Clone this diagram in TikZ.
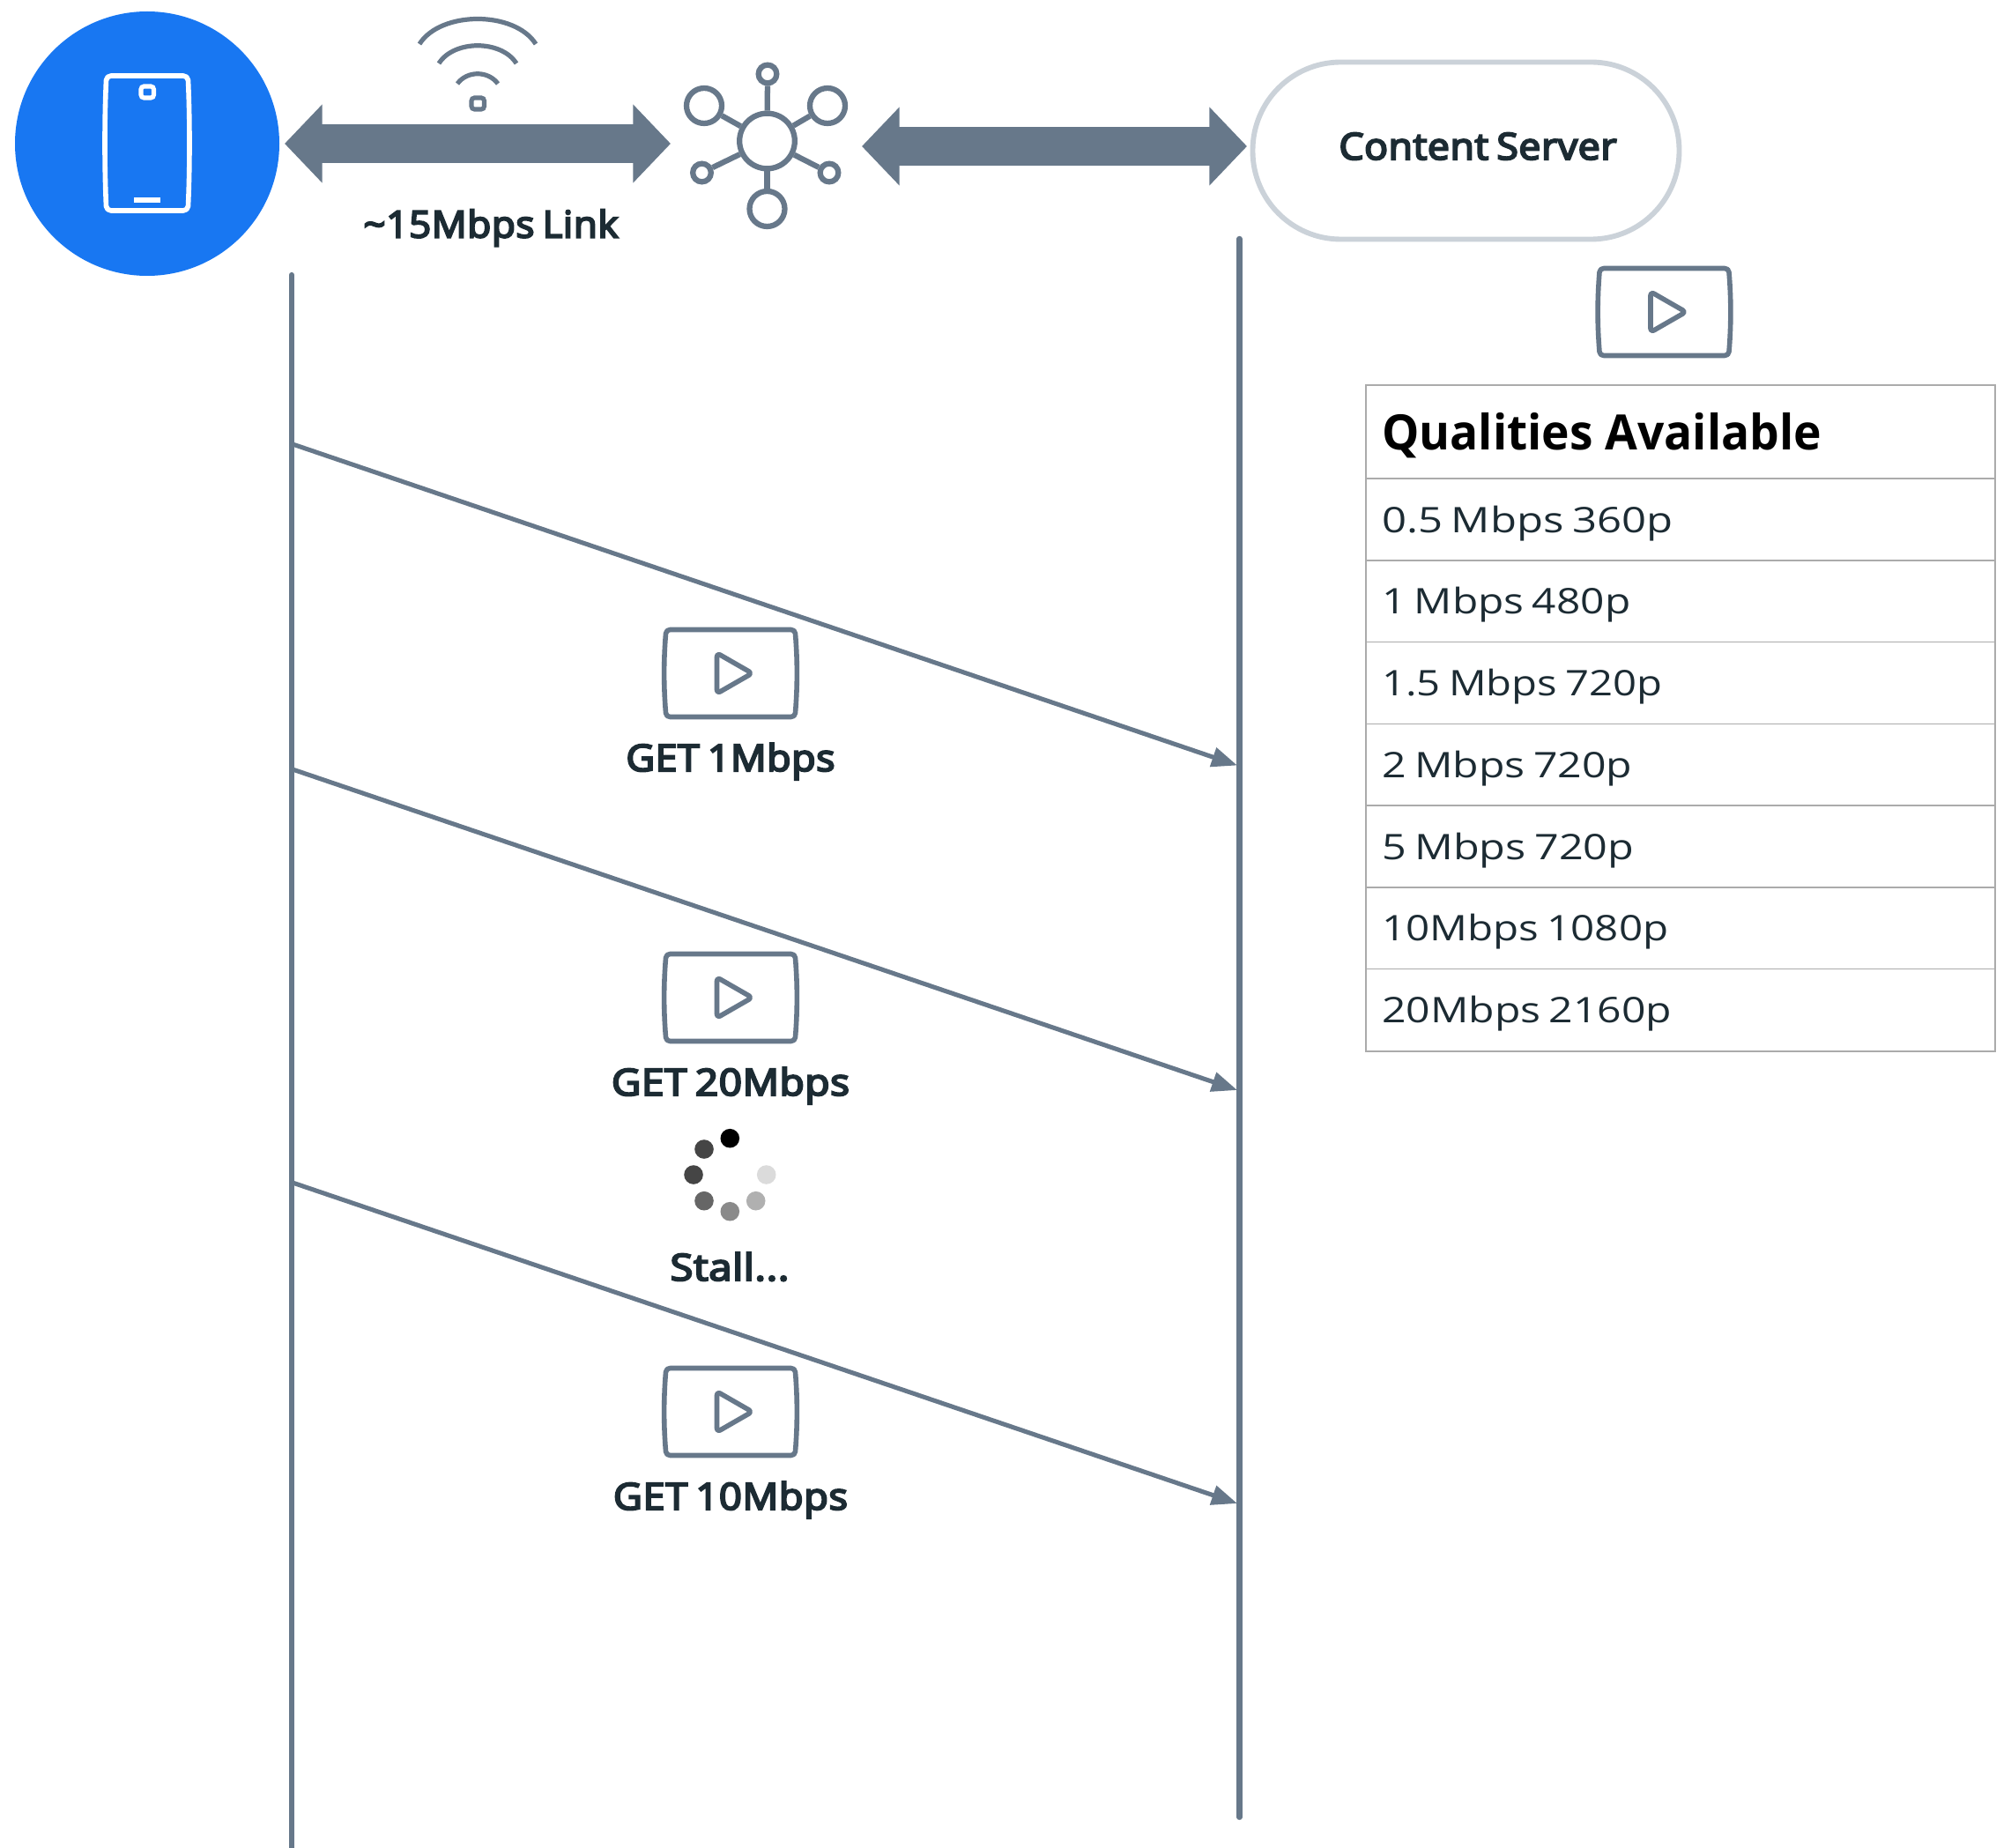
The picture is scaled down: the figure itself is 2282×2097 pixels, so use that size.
\documentclass[tikz,border=0pt]{standalone}
\usepackage{fontspec}
\usepackage{graphicx}
\usetikzlibrary{arrows.meta}
\setmainfont{Open Sans}
\newfontfamily\semi[FakeBold=5,LetterSpace=1.5,WordSpace=0.75]{Open Sans}
\newfontfamily\rowf[WordSpace=0.75]{Open Sans}
\definecolor{slate}{HTML}{67788A}
\definecolor{inkc}{HTML}{1C2B33}
\definecolor{fbblue}{HTML}{1877F2}
\definecolor{pale}{HTML}{CBD2D9}
\definecolor{rule}{HTML}{ABABAB}
% horizontally fit a text to a width given in reference pixels
\newcommand\fitw[2]{\setbox0=\hbox{#2}\pgfmathsetmacro\fitx{#1*0.75/\the\wd0}\scalebox{\fitx}[1]{\box0}}
\newcommand\lblfont{\fontsize{31.5}{36}\selectfont\semi\color{inkc}}
\newcommand\rowfont{\fontsize{30}{32}\selectfont\rowf\color{inkc}}
\newcommand\headfont{\fontsize{41.5}{46}\selectfont\bfseries\color{black}}
\tikzset{
  x=0.75pt,y=-0.75pt,
  iconline/.style={draw=slate,line width=4.2pt,line join=round},
  lifeline/.style={draw=slate,line width=4.7pt,line cap=round},
  msg/.style={draw=slate,line width=3.8pt,-{Triangle[length=21.75pt,width=16.5pt]}},
  fatarrow/.style={draw=slate,line width=32.5pt,{Triangle[length=32pt,width=65pt]}-{Triangle[length=32pt,width=65pt]}},
  label/.style={inner sep=0pt,anchor=base},
  rowlbl/.style={inner sep=0pt,anchor=base west},
  dot/.style={circle,inner sep=0pt,minimum size=16.2pt},
  ring/.style={circle,draw=slate,line width=4.7pt,inner sep=0pt},
  spoke/.style={draw=slate,line width=4.7pt},
}
\newcommand\vidicon[2]{%
\begin{scope}[shift={(#1,#2)}]
 \draw[iconline] (-69,-49.5) -- (68,-49.5) .. controls (71,-49.5) and (72.5,-48) .. (73,-45) .. controls (75.5,-15) and (75.5,15) .. (73,45) .. controls (72.5,48) and (71,49.5) .. (68,49.5) -- (-69,49.5) .. controls (-72,49.5) and (-73.5,48) .. (-74,45) .. controls (-76.5,15) and (-76.5,-15) .. (-74,-45) .. controls (-73.5,-48) and (-72,-49.5) .. (-69,-49.5) -- cycle;
 \draw[iconline,rounded corners=3pt] (-16,-23) -- (24,0) -- (-16,23) -- cycle;
\end{scope}}
\begin{document}
\begin{tikzpicture}
\useasboundingbox (0,0) rectangle (2282,2097);
% device
\node[circle,fill=fbblue,minimum size=225pt,inner sep=0pt] (phone) at (167,163) {};
\draw[draw=white,line width=4.2pt,line join=round] (126,86) -- (208,86) .. controls (211,86) and (213,88) .. (213.5,91) .. controls (215.5,135) and (215.5,190) .. (213.5,234) .. controls (213,237) and (211,239) .. (208,239) -- (126,239) .. controls (123,239) and (121,237) .. (120.5,234) .. controls (118.5,190) and (118.5,135) .. (120.5,91) .. controls (121,88) and (123,86) .. (126,86) -- cycle;
\draw[draw=white,line width=3.8pt,rounded corners=2.5pt] (160,98) rectangle (174.5,111);
\fill[white] (152,224) rectangle (182,230);
% wifi
\draw[draw=slate,line width=3.9pt] (476,50) .. controls (500,12) and (584,12) .. (608,50);
\draw[draw=slate,line width=3.9pt] (498,72) .. controls (515,45) and (569,45) .. (586,72);
\draw[draw=slate,line width=3.9pt] (519,95) .. controls (530,80) and (554,80) .. (565,95);
\draw[draw=slate,line width=3.8pt,rounded corners=2.5pt] (535,111) rectangle (549.5,124);
% fat arrows
\coordinate (a1l) at (323,163); \coordinate (a1r) at (761,163);
\coordinate (a2l) at (978,166); \coordinate (a2r) at (1415,166);
\draw[fatarrow] (a1l) -- (a1r);
\draw[fatarrow] (a2l) -- (a2r);
% hub
\node[ring,minimum size=47pt] (hub) at (870.5,160) {};
\node[ring,minimum size=15.5pt] (s1) at (871,84) {};
\node[ring,minimum size=30pt] (s2) at (799,120) {};
\node[ring,minimum size=30pt] (s3) at (939,120) {};
\node[ring,minimum size=15.5pt] (s4) at (796.5,196) {};
\node[ring,minimum size=15.5pt] (s5) at (941,196) {};
\node[ring,minimum size=30pt] (s6) at (870.5,237) {};
\foreach \s in {s1,s2,s3,s4,s5,s6} \draw[spoke] (hub) -- (\s);
% server
\draw[draw=pale,line width=4.4pt,fill=white,rounded corners=75pt] (1421.5,70.5) rectangle (1905.5,271.5);
\node[label] (server) at (1677,181) {\fitw{315}{\lblfont Content Server}};
\node[label] (link) at (557,269.5) {\fitw{289}{\lblfont\textasciitilde15Mbps Link}};
% lifelines
\coordinate (lt) at (331,312); \coordinate (lb) at (331,2097);
\coordinate (rt) at (1406.5,271); \coordinate (rb) at (1406.5,2062);
\draw[lifeline] (lt) -- (lb);
\draw[lifeline] (rt) -- (rb);
% messages
\coordinate (m1a) at (332,504); \coordinate (m1b) at (1404,868.5);
\coordinate (m2a) at (332,873); \coordinate (m2b) at (1404,1237);
\coordinate (m3a) at (332,1342); \coordinate (m3b) at (1404,1706);
\draw[msg] (m1a) -- (m1b);
\draw[msg] (m2a) -- (m2b);
\draw[msg] (m3a) -- (m3b);
% video icons
\vidicon{829.5}{764}
\vidicon{829.5}{1132}
\vidicon{829.5}{1602}
\vidicon{1889}{354}
% labels
\node[label] (g1) at (829,875) {\fitw{237}{\lblfont GET 1Mbps}};
\node[label] (g2) at (829,1243) {\fitw{270}{\lblfont GET 20Mbps}};
\node[label] (g3) at (829,1713) {\fitw{266}{\lblfont GET 10Mbps}};
\node[label] (st) at (828,1453) {\fitw{135}{\lblfont Stall...}};
% spinner
\node[dot,fill=black] (d1) at (828.3,1291.7) {};
\node[dot,fill=black!73] (d2) at (799,1304) {};
\node[dot,fill=black!73] (d3) at (787,1333) {};
\node[dot,fill=black!60] (d4) at (799,1362.7) {};
\node[dot,fill=black!46] (d5) at (828.3,1374.7) {};
\node[dot,fill=black!31] (d6) at (857.7,1362.7) {};
\node[dot,fill=black!14] (d7) at (869.7,1333) {};
% table
\draw[draw=rule,line width=1.5pt] (1550,437) rectangle (2264,1192.7);
\foreach \yy in {543,636,728.5,821.5,914,1007,1099.5} \draw[draw=rule,line width=1.2pt] (1550,\yy) -- (2264,\yy);
\node[rowlbl] (h) at (1568,510) {\fitw{499}{\headfont Qualities Available}};
\node[rowlbl] (r1) at (1568,604.5) {\fitw{330}{\rowfont 0.5 Mbps 360p}};
\node[rowlbl] (r2) at (1568,696.5) {\fitw{282}{\rowfont 1 Mbps 480p}};
\node[rowlbl] (r3) at (1568,789.5) {\fitw{318}{\rowfont 1.5 Mbps 720p}};
\node[rowlbl] (r4) at (1568,882.5) {\fitw{284}{\rowfont 2 Mbps 720p}};
\node[rowlbl] (r5) at (1568,975.5) {\fitw{286}{\rowfont 5 Mbps 720p}};
\node[rowlbl] (r6) at (1568,1067.5) {\fitw{325}{\rowfont 10Mbps 1080p}};
\node[rowlbl] (r7) at (1568,1160.5) {\fitw{329}{\rowfont 20Mbps 2160p}};
\end{tikzpicture}
\end{document}
